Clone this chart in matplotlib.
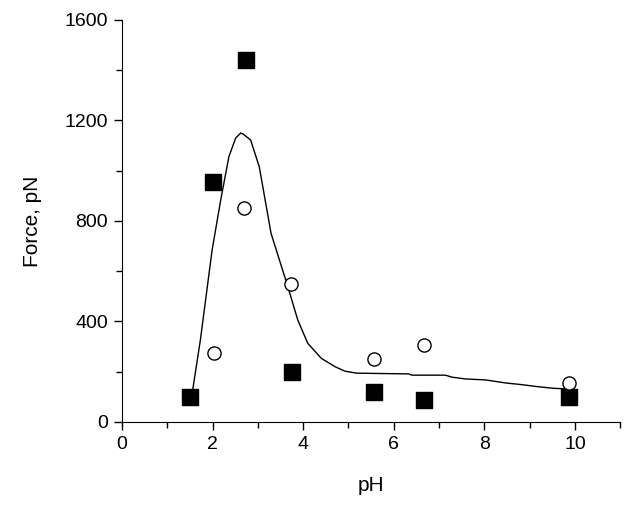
import numpy as np
import matplotlib.pyplot as plt
from matplotlib.ticker import MultipleLocator

plt.rcParams['font.family'] = ['Liberation Sans', 'DejaVu Sans']

# Filled squares
ph_sq = [1.5, 2.0, 2.73, 3.75, 5.56, 6.66, 9.87]
force_sq = [100, 955, 1440, 200, 120, 87, 101]

# Open circles
ph_ci = [2.02, 2.7, 3.73, 5.56, 6.66, 9.87]
force_ci = [275, 852, 549, 250, 305, 155]

# Fitted curve
ph_fit = [1.55, 1.73, 1.99, 2.18, 2.36, 2.51, 2.62, 2.68, 2.84, 3.03, 3.29, 3.66,
          3.88, 4.10, 4.40, 4.70, 4.92, 5.18, 6.33, 6.40, 7.14, 7.29, 7.58, 8.03,
          8.47, 8.84, 9.14, 9.51, 9.81]
force_fit = [115, 326, 685, 884, 1056, 1130, 1150, 1145, 1122, 1016, 751, 539,
             406, 313, 253, 220, 202, 194, 191, 186, 186, 178, 171, 167,
             155, 148, 141, 134, 131]

fig = plt.figure(figsize=(6.29, 5.12), dpi=100)
ax = fig.add_axes([0.194, 0.176, 0.792, 0.785])

ax.plot(ph_fit, force_fit, color='black', lw=1)
ax.scatter(ph_sq, force_sq, marker='s', s=120, color='black', zorder=3)
ax.scatter(ph_ci, force_ci, marker='o', s=90, facecolor='white',
           edgecolor='black', linewidth=1, zorder=3)

ax.set_xlim(0, 11)
ax.set_ylim(0, 1600)
ax.xaxis.set_major_locator(MultipleLocator(2))
ax.xaxis.set_minor_locator(MultipleLocator(1))
ax.yaxis.set_major_locator(MultipleLocator(400))
ax.yaxis.set_minor_locator(MultipleLocator(200))
ax.tick_params(which='major', length=6, width=1, labelsize=14, pad=4)
ax.tick_params(which='minor', length=4, width=1)

ax.spines['top'].set_visible(False)
ax.spines['right'].set_visible(False)

ax.set_xlabel('pH', fontsize=15, labelpad=17)
ax.set_ylabel('Force, pN', fontsize=15, labelpad=16)

fig.savefig('out.png', dpi=100)
